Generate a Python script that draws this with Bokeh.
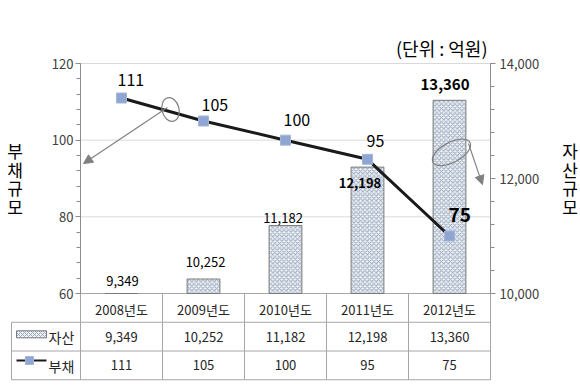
from bokeh.plotting import figure
from bokeh.models import (Range1d, LinearAxis, FixedTicker, NumeralTickFormatter,
                          Arrow, NormalHead, ColumnDataSource)
from bokeh.embed import file_html
from bokeh.resources import INLINE
from bokeh.core.properties import value

# ---------------- data ----------------
categories = ["2008년도", "2009년도", "2010년도", "2011년도", "2012년도"]
assets = [9349, 10252, 11182, 12198, 13360]          # 자산 (right axis)
debts = [111, 105, 100, 95, 75]                        # 부채 (left axis)
left_ticks = [60, 80, 100, 120]
right_ticks = [10000, 12000, 14000]
series_names = ["자산", "부채"]
unit_text = "(단위 : 억원)"
left_title = "부채규모"
right_title = "자산규모"

# ---------------- styles ----------------
FONT = "Noto Sans CJK KR"
GRAY = "#8C8C8C"
TABLE_GRAY = "#A6A6A6"
GRID = "#D9D9D9"
BAR_FILL = "#F1F4F8"
BAR_HATCH = "#97A6BB"
BAR_LINE = "#7A7A7A"
MARK_FILL = "#8EA6D1"
MARK_LINE = "#A3B6DA"
ARROW = "#808080"

line_lab_dx = [-4, -2, -2, -1, -1]
line_lab_dy = [-18, -16, -20, -18, -21]
line_lab_size = ["16px", "16px", "16px", "16px", "19px"]
line_lab_style = ["normal", "normal", "normal", "normal", "bold"]

bar_lab_dx = [1, 2, -2.5, -7.5, -4.5]
bar_lab_dy = [-13, -17.5, -7.5, 15.5, -16]
bar_lab_size = ["13px", "13px", "13px", "13px", "15px"]
bar_lab_style = ["normal", "normal", "normal", "bold", "bold"]

# ---------------- geometry (pixels) ----------------
W, H = 580, 390
CAT_PX = 82.0                      # width of one category column
FIRST_CAT_X = 121.0                # pixel centre of first category
PLOT_T, PLOT_H = 63.0, 230.0       # value area (60..120) top and height
ROW_PX = 28.75                     # table row height

xs = list(range(1, len(categories) + 1))
asset_min, asset_max = right_ticks[0], right_ticks[-1]
debt_min, debt_max = left_ticks[0], left_ticks[-1]
px_y = PLOT_H / (debt_max - debt_min)
px_y2 = PLOT_H / (asset_max - asset_min)
below_px = H - PLOT_T - PLOT_H


def px_to_x(px):
    return 1 + (px - FIRST_CAT_X) / CAT_PX


def px_to_y(py):
    return debt_max - (py - PLOT_T) / px_y


# the frame covers the whole canvas; axes sit at fixed data locations
p = figure(width=W, height=H,
           x_range=Range1d(px_to_x(0), px_to_x(W)),
           y_range=Range1d(debt_min - below_px / px_y, debt_max + PLOT_T / px_y),
           output_backend="svg", toolbar_location=None,
           x_axis_location=None, y_axis_location=None,
           min_border_left=0, min_border_right=0, min_border_top=0, min_border_bottom=0,
           outline_line_color=None, background_fill_color="white", border_fill_color="white")
p.grid.visible = False
p.extra_y_ranges = {
    "asset": Range1d(asset_min - below_px / px_y2, asset_max + PLOT_T / px_y2),
    # table rows: 3 = axis line (60), 2/1/0 = row borders
    "table": Range1d(3 - (H - PLOT_T - PLOT_H) / ROW_PX, 3 + (PLOT_H + PLOT_T) / ROW_PX),
}

left_edge = xs[0] - 0.5
right_edge = xs[-1] + 0.5


def style_axis(ax, standoff_lab, title, title_standoff):
    ax.axis_line_color = GRAY
    ax.major_tick_line_color = GRAY
    ax.minor_tick_line_color = GRAY
    ax.major_tick_out = 5
    ax.major_tick_in = 0
    ax.minor_tick_out = 4
    ax.minor_tick_in = 0
    ax.major_label_standoff = standoff_lab
    ax.major_label_text_font = FONT
    ax.major_label_text_font_size = "13px"
    ax.major_label_text_color = "#404040"
    ax.axis_label = "\n".join(title)
    ax.axis_label_standoff = title_standoff
    ax.axis_label_text_font = FONT
    ax.axis_label_text_font_size = "17px"
    ax.axis_label_text_font_style = "normal"
    ax.axis_label_text_color = "#000000"
    ax.axis_label_text_line_height = 0.75
    if hasattr(ax, "axis_label_orientation"):
        ax.axis_label_orientation = "horizontal"


# left axis (debts) at the left edge of the first category column
la = LinearAxis(fixed_location=left_edge, bounds=(debt_min, debt_max),
                ticker=FixedTicker(ticks=left_ticks,
                                   minor_ticks=[v for v in range(debt_min, debt_max + 1, 4)]))
style_axis(la, 2, left_title, 26)
p.add_layout(la, "left")

# right axis (assets)
ra = LinearAxis(y_range_name="asset", fixed_location=right_edge, bounds=(asset_min, asset_max),
                ticker=FixedTicker(ticks=right_ticks,
                                   minor_ticks=[v for v in range(asset_min, asset_max + 1, 400)]),
                formatter=NumeralTickFormatter(format="0,0"))
style_axis(ra, 4, right_title, 20)
p.add_layout(ra, "right")

# unit note
p.text(x=[px_to_x(487)], y=[px_to_y(47.5)], text=[unit_text], text_font=value(FONT),
       text_font_size="18px", text_align="right", text_baseline="middle", text_color="#000000")

# horizontal grid lines
p.segment(x0=[left_edge] * 3, x1=[right_edge] * 3, y0=left_ticks[1:], y1=left_ticks[1:],
          line_color=GRID, line_width=1)

# ---------------- data table (header row + two series rows) ----------------
bounds = [x - 0.5 for x in xs] + [right_edge]
tbl_left = px_to_x(11)
p.segment(x0=[left_edge], x1=[right_edge], y0=[3], y1=[3], y_range_name="table",
          line_color=TABLE_GRAY, line_width=1)
p.segment(x0=[tbl_left] * 3, x1=[right_edge] * 3, y0=[2, 1, 0], y1=[2, 1, 0],
          y_range_name="table", line_color=TABLE_GRAY, line_width=1)
p.segment(x0=bounds, x1=bounds, y0=[0] * len(bounds), y1=[3] * len(bounds),
          y_range_name="table", line_color=TABLE_GRAY, line_width=1)
p.segment(x0=[tbl_left], x1=[tbl_left], y0=[0], y1=[2], y_range_name="table",
          line_color=TABLE_GRAY, line_width=1)

p.text(x=xs, y=[2.5] * len(xs), text=categories, y_offset=1.5, y_range_name="table",
       text_font=value(FONT), text_font_size="13px", text_align="center",
       text_baseline="middle", text_color="#262626")
p.text(x=xs, y=[1.5] * len(xs), text=[f"{a:,}" for a in assets], y_range_name="table",
       text_font=value(FONT), text_font_size="13px", text_align="center",
       text_baseline="middle", text_color="#262626")
p.text(x=xs, y=[0.5] * len(xs), text=[str(d) for d in debts], y_range_name="table",
       text_font=value(FONT), text_font_size="13px", text_align="center",
       text_baseline="middle", text_color="#262626")

# legend keys in the row headers
key_x = px_to_x(31)
p.rect(x=[key_x], y=[1.58], width=[30], height=[7], width_units="screen", height_units="screen",
       y_range_name="table", fill_color=BAR_FILL, line_color=BAR_LINE,
       hatch_pattern="diagonal_cross", hatch_color=BAR_HATCH, hatch_scale=4, hatch_weight=1)
p.segment(x0=[key_x - 15 / CAT_PX], x1=[key_x + 15 / CAT_PX], y0=[0.67], y1=[0.67],
          y_range_name="table", line_color="#1A1A1A", line_width=2)
p.scatter(x=[key_x - 2 / CAT_PX], y=[0.67], y_range_name="table", marker="square", size=8,
          fill_color=MARK_FILL, line_color=MARK_LINE)
p.text(x=[px_to_x(48)] * 2, y=[1.5, 0.47], text=series_names,
       y_range_name="table", text_font=value(FONT), text_font_size="14px",
       text_align="left", text_baseline="middle", text_color="#262626")

# ---------------- bars (assets), clipped at the axis floor ----------------
bar_top = [max(a, asset_min) for a in assets]
p.vbar(x=xs, top=bar_top, bottom=asset_min, width=0.4, y_range_name="asset",
       fill_color=BAR_FILL, line_color=BAR_LINE, line_width=1,
       hatch_pattern="diagonal_cross", hatch_color=BAR_HATCH, hatch_scale=4.5, hatch_weight=1)

bar_src = ColumnDataSource(dict(
    x=xs, y=bar_top, text=[f"{a:,}" for a in assets],
    dx=bar_lab_dx, dy=bar_lab_dy, size=bar_lab_size, style=bar_lab_style))
p.text(x="x", y="y", text="text", source=bar_src, y_range_name="asset",
       x_offset="dx", y_offset="dy", text_font_size="size", text_font_style="style",
       text_font=value(FONT), text_align="center", text_baseline="middle", text_color="#000000")

# ---------------- line (debts) ----------------
p.line(xs, debts, line_color="#1A1A1A", line_width=3)
p.scatter(xs, debts, marker="square", size=10, fill_color=MARK_FILL, line_color=MARK_LINE)

line_src = ColumnDataSource(dict(
    x=xs, y=debts, text=[str(d) for d in debts],
    dx=line_lab_dx, dy=line_lab_dy, size=line_lab_size, style=line_lab_style))
p.text(x="x", y="y", text="text", source=line_src,
       x_offset="dx", y_offset="dy", text_font_size="size", text_font_style="style",
       text_font=value(FONT), text_align="left", text_baseline="middle", text_color="#000000")

# ---------------- hand-drawn style annotations (loops + arrows) ----------------
p.ellipse(x=[1.598], y=[108.0], width=[17], height=[24], width_units="screen",
          height_units="screen", angle=0.25, fill_alpha=0, line_color=ARROW, line_width=1.2)
p.add_layout(Arrow(x_start=1.56, y_start=108.5, x_end=0.537, y_end=93.9,
                   line_color=ARROW, line_width=1.2,
                   end=NormalHead(size=9, fill_color=ARROW, line_color=ARROW)))
p.ellipse(x=[5.024], y=[96.8], width=[42], height=[20], width_units="screen",
          height_units="screen", angle=0.49, fill_alpha=0, line_color=ARROW, line_width=1.2)
p.add_layout(Arrow(x_start=5.232, y_start=99.1, x_end=5.402, y_end=88.4,
                   line_color=ARROW, line_width=1.2,
                   end=NormalHead(size=9, fill_color=ARROW, line_color=ARROW)))

open("out.html", "w").write(file_html(p, INLINE))
